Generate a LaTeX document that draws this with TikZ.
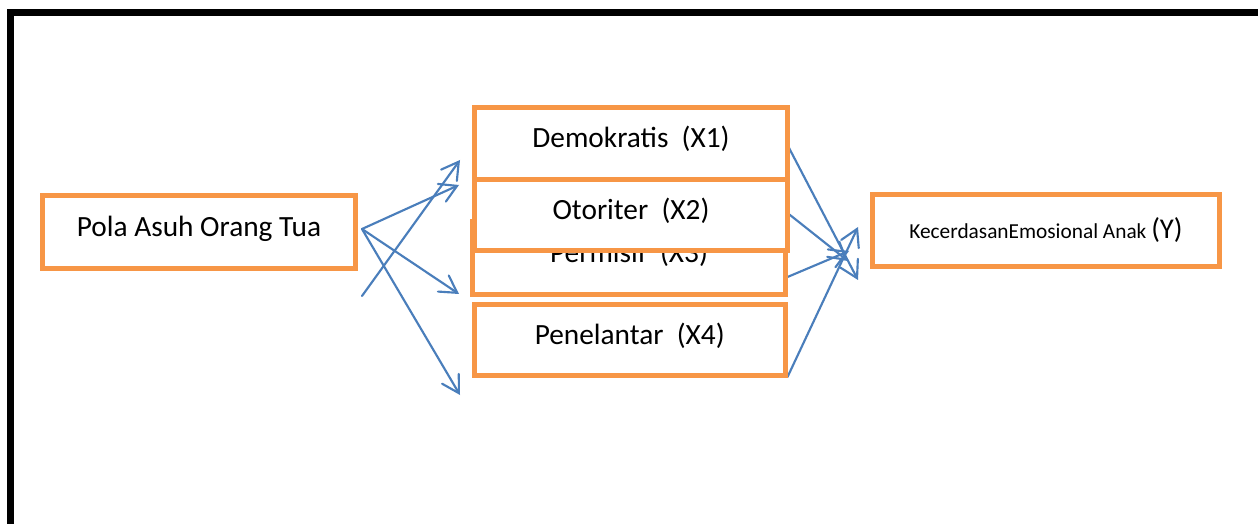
\documentclass[tikz,border=0pt]{standalone}
\usepackage{fontspec}
\setmainfont{Carlito}
\usetikzlibrary{arrows.meta}
\definecolor{boxorange}{HTML}{F79646}
\definecolor{linkblue}{HTML}{4A7EBB}
\tikzset{
  varbox/.style={draw=boxorange, line width=3.75pt, fill=white, inner sep=0pt,
    font=\fontsize{22}{26}\selectfont, text height=15pt, text depth=8.3pt},
  link/.style={draw=linkblue, line width=1.6pt, line cap=round,
    -{Straight Barb[length=12.5pt,width=14.5pt,line cap=round]}}
}
\begin{document}
\begin{tikzpicture}[x=0.75pt,y=-0.75pt]
  \useasboundingbox (0,0) rectangle (1258,524);
  \clip (0,0) rectangle (1258,524);
  \fill[white] (0,0) rectangle (1258,524);

  % frame (top and left rules)
  \draw[line width=5.25pt, line join=miter] (10.5,560) -- (10.5,12.5) -- (1300,12.5);

  % arrow end points
  \coordinate (src)  at (362,229);
  \coordinate (src2) at (362,296);
  \coordinate (t1) at (459,185);
  \coordinate (t2) at (459,294);
  \coordinate (t3) at (460,395);
  \coordinate (t4) at (460,160);
  \coordinate (s1) at (787.5,145);
  \coordinate (s2) at (787.5,213);
  \coordinate (s3) at (787.5,277);
  \coordinate (s4) at (787.5,377);
  \coordinate (y1) at (858,280);
  \coordinate (y2) at (848,261);
  \coordinate (y3) at (849,251);
  \coordinate (y4) at (858,227);

  % connectors
  \draw[link] (src) -- (t1);
  \draw[link] (src) -- (t2);
  \draw[link] (src) -- (t3);
  \draw[link] (src2) -- (t4);
  \draw[link] (s1) -- (y1);
  \draw[link] (s2) -- (y2);
  \draw[link] (s3) -- (y3);
  \draw[link] (s4) -- (y4);

  % boxes
  \node[varbox, minimum width=234.75pt, minimum height=54.75pt] (pola) at (199,232) {Pola Asuh Orang Tua};
  \node[varbox, minimum width=260.25pt, minimum height=54pt, text height=, text depth=] (kec) at (1046,230.5)
    {{\fontsize{16}{19}\selectfont KecerdasanEmosional Anak }{\fontsize{21.5}{25}\selectfont(Y)}};
  \node[varbox, minimum width=234.75pt, minimum height=54.75pt] (x3) at (629,258.5) {Permisif\ \ (X3)};
  \node[varbox, minimum width=234.75pt, minimum height=54pt] (x1) at (631,143.5) {Demokratis\ \ (X1)};
  \node[varbox, minimum width=234.75pt, minimum height=53pt] (x2) at (631,214.7) {Otoriter\ \ (X2)};
  \node[varbox, minimum width=233.6pt, minimum height=53.6pt] (x4) at (629.75,339.75) {Penelantar\ \ (X4)};
\end{tikzpicture}
\end{document}
